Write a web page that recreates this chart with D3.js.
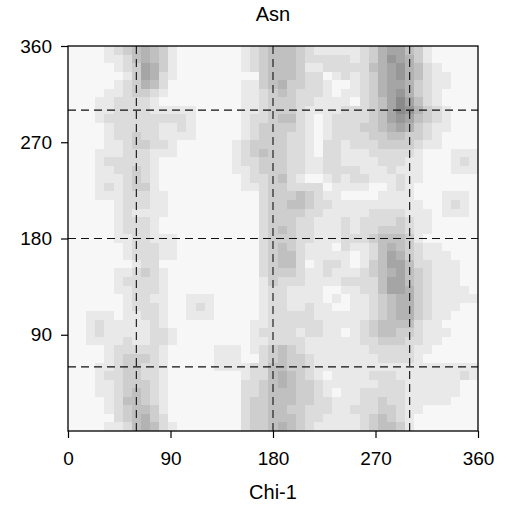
<!DOCTYPE html>
<html lang="en">
<head>
<meta charset="utf-8">
<title>Asn</title>
<script src="https://cdn.jsdelivr.net/npm/d3@7"></script>
<style>
  body { margin: 0; background: #fff; }
  svg text { font-family: "Liberation Sans", Arial, sans-serif; fill: #000; }
</style>
</head>
<body>
<svg id="chart"></svg>
<script>
// chart title + axis label
var title = "Asn";
var xLabel = "Chi-1";

// tick labels
var xTicks = [0, 90, 180, 270, 360];
var yTicks = [90, 180, 270, 360];

// reference (dashed) lines, degrees
var refX = [60, 180, 300];
var refY = [60, 180, 300];

// bins are 8 degrees wide, 45 per axis
var binSize = 8;

// density level per cell (0 = empty .. 9 = densest), one string per chi-2 bin
// first string is the top bin (352-360), last is 0-8; chars go chi-1 0 -> 360
var density = [
  "000012345431000" + "000012344432111" + "112356643100000",
  "000011245431000" + "000012344432222" + "212357653100000",
  "000001236531000" + "000012344431122" + "222456754210000",
  "000000136521000" + "000000344432201" + "212356754211000",
  "000001235420000" + "000011345332210" + "012356653211000",
  "000011233210000" + "000011234322210" + "112356753210000",
  "000112222100000" + "000011233322111" + "102346864210000",
  "000112222111110" + "000011233321111" + "222346875321000",
  "000122222222210" + "000012234421012" + "222346764321000",
  "000012222211210" + "000012333321012" + "223345653211000",
  "000012232211110" + "000012333221012" + "222334433210000",
  "000011233221000" + "000123333221022" + "122233332110000",
  "000111222111000" + "000123433221022" + "111222221000111",
  "000122222100000" + "000122333221122" + "111122211000121",
  "000112232100000" + "000112333221122" + "221112111000111",
  "000111232100000" + "000012234210012" + "122111211000000",
  "000121233100000" + "000011233222201" + "111001210000000",
  "000111222110000" + "000000233343211" + "000011110001110",
  "000001222110000" + "000000233443221" + "111111111001210",
  "000001211110000" + "000000233332211" + "111222211101110",
  "000001222100000" + "000000233322111" + "212222321100000",
  "000001222100000" + "000000234322111" + "212233321100000",
  "000001122111000" + "000000233322111" + "222344431000000",
  "000000122211000" + "000000234321110" + "211245432110000",
  "000000122211000" + "000000234421111" + "101246532111000",
  "000000012200000" + "000000234420122" + "101346642211100",
  "000001123210000" + "000000233321121" + "112345643211100",
  "000001222210000" + "000000132221111" + "222246643211100",
  "000001122210000" + "000000122111100" + "112246653211110",
  "000000122110011" + "100000122111101" + "011234553211111",
  "000000122210012" + "100000122112110" + "011234553211100",
  "001110112210011" + "100000122222111" + "111234553211000",
  "001211111210000" + "000001122222211" + "112344442110000",
  "001211111221000" + "000001222212211" + "012344332111000",
  "001111211221000" + "000001122221111" + "112233322110000",
  "000012222210000" + "011101234321111" + "111222221100000",
  "000012333210000" + "011100234332111" + "111122221000000",
  "000112332210000" + "011112244332111" + "111111111111111",
  "000122332210000" + "000012245432101" + "111222111111121",
  "000112333210000" + "000022345433211" + "111122211111100",
  "000112343210000" + "000022344433210" + "112222211111100",
  "000012443210000" + "000023344433221" + "112232211111000",
  "000012344310000" + "000023344332221" + "122233211000000",
  "000002345320000" + "000023344432211" + "112343210000000",
  "000011245421000" + "000023345432111" + "112344310000000"
];

var width = 507, height = 513;
var plotLeft = 68, plotRight = 478, plotTop = 46, plotBottom = 431;

var svg = d3.select("#chart").attr("width", width).attr("height", height);

var x = d3.scaleLinear().domain([0, 360]).range([plotLeft, plotRight]);
var y = d3.scaleLinear().domain([0, 360]).range([plotBottom, plotTop]);
var color = d3.scaleLinear().domain([0, 9]).range(["#f7f7f7", "#7c7c7c"]);

// flatten to cells
var cells = [];
density.forEach(function(row, r){
  var lo2 = 360 - binSize * (r + 1);
  row.split("").forEach(function(ch, c){
    cells.push({ chi1: c * binSize, chi2: lo2, v: +ch });
  });
});

var g = svg.append("g");

g.selectAll("rect.cell")
  .data(cells)
  .enter().append("rect")
  .attr("class", "cell")
  .attr("x", function(d){ return x(d.chi1); })
  .attr("y", function(d){ return y(d.chi2 + binSize); })
  .attr("width", x(binSize) - x(0) + 0.4)
  .attr("height", y(0) - y(binSize) + 0.4)
  .attr("fill", function(d){ return color(d.v); })
  .attr("shape-rendering", "crispEdges");

// dashed reference lines
g.selectAll("line.vx")
  .data(refX)
  .enter().append("line")
  .attr("x1", function(d){ return x(d); })
  .attr("x2", function(d){ return x(d); })
  .attr("y1", plotTop).attr("y2", plotBottom)
  .attr("stroke", "#111").attr("stroke-width", 1.1)
  .attr("stroke-dasharray", "8,5");

g.selectAll("line.hy")
  .data(refY)
  .enter().append("line")
  .attr("y1", function(d){ return y(d); })
  .attr("y2", function(d){ return y(d); })
  .attr("x1", plotLeft).attr("x2", plotRight)
  .attr("stroke", "#111").attr("stroke-width", 1.1)
  .attr("stroke-dasharray", "8,5");

// frame
svg.append("rect")
  .attr("x", plotLeft).attr("y", plotTop)
  .attr("width", plotRight - plotLeft).attr("height", plotBottom - plotTop)
  .attr("fill", "none").attr("stroke", "#000").attr("stroke-width", 1.3);

// axes
var xAxis = svg.append("g")
  .attr("transform", "translate(0," + plotBottom + ")")
  .call(d3.axisBottom(x).tickValues(xTicks).tickSize(7).tickPadding(14).tickFormat(d3.format("d")));
var yAxis = svg.append("g")
  .attr("transform", "translate(" + plotLeft + ",0)")
  .call(d3.axisLeft(y).tickValues(yTicks).tickSize(7).tickPadding(9).tickFormat(d3.format("d")));

[xAxis, yAxis].forEach(function(a){
  a.select(".domain").remove();
  a.selectAll(".tick line").attr("stroke", "#000").attr("stroke-width", 1.2);
  a.selectAll(".tick text").attr("font-size", 19).attr("font-family", null);
});

// labels
svg.append("text")
  .attr("x", (plotLeft + plotRight) / 2).attr("y", 21)
  .attr("text-anchor", "middle").attr("font-size", 20)
  .text(title);

svg.append("text")
  .attr("x", (plotLeft + plotRight) / 2).attr("y", 499)
  .attr("text-anchor", "middle").attr("font-size", 20)
  .text(xLabel);
</script>
</body>
</html>
